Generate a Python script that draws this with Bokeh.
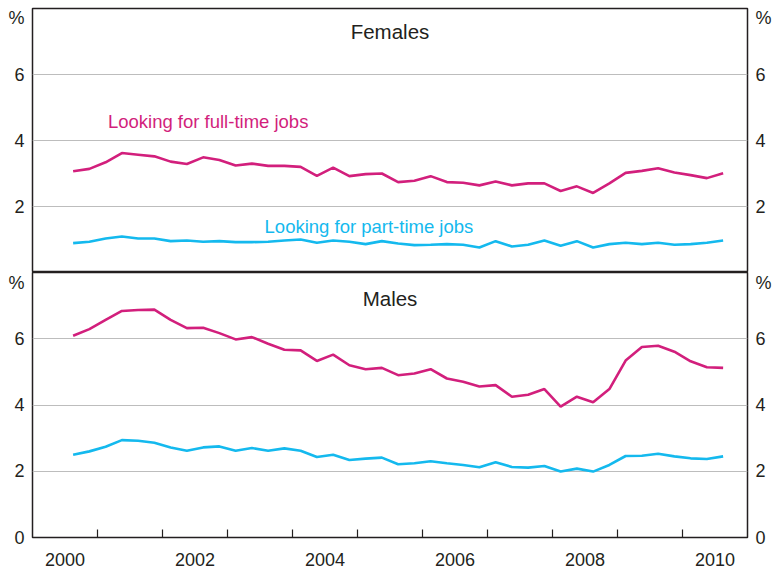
from bokeh.plotting import figure
from bokeh.models import (Range1d, LinearAxis, FixedTicker, CustomJSTickFormatter,
                          Label, ColumnDataSource)
from bokeh.layouts import column
from bokeh.embed import file_html
from bokeh.resources import INLINE

# ---- data (quarterly, mid-quarter, Aug 2000 .. Aug 2010) ----
quarters = [2000.625 + 0.25 * i for i in range(41)]

fem_full = [3.07, 3.14, 3.34, 3.62, 3.57, 3.52, 3.36, 3.29, 3.49, 3.41,
            3.24, 3.30, 3.23, 3.23, 3.20, 2.93, 3.18, 2.92, 2.98, 3.00,
            2.74, 2.78, 2.92, 2.74, 2.72, 2.64, 2.76, 2.64, 2.70, 2.70,
            2.47, 2.61, 2.41, 2.70, 3.02, 3.08, 3.16, 3.03, 2.95, 2.86, 3.01]
fem_part = [0.89, 0.93, 1.03, 1.09, 1.03, 1.03, 0.95, 0.97, 0.93, 0.95,
            0.92, 0.92, 0.93, 0.97, 1.00, 0.90, 0.97, 0.93, 0.86, 0.95,
            0.88, 0.83, 0.84, 0.86, 0.84, 0.76, 0.95, 0.79, 0.84, 0.97,
            0.81, 0.95, 0.76, 0.86, 0.90, 0.86, 0.90, 0.84, 0.86, 0.90, 0.97]
male_full = [6.09, 6.29, 6.57, 6.84, 6.87, 6.88, 6.57, 6.32, 6.33, 6.17,
             5.98, 6.05, 5.85, 5.67, 5.65, 5.33, 5.52, 5.20, 5.08, 5.12,
             4.90, 4.95, 5.08, 4.80, 4.70, 4.56, 4.60, 4.25, 4.31, 4.48,
             3.95, 4.25, 4.08, 4.48, 5.34, 5.75, 5.79, 5.61, 5.32, 5.14, 5.12]
male_part = [2.50, 2.60, 2.74, 2.94, 2.92, 2.86, 2.72, 2.62, 2.72, 2.75,
             2.62, 2.70, 2.62, 2.69, 2.62, 2.43, 2.50, 2.34, 2.38, 2.41,
             2.21, 2.24, 2.30, 2.24, 2.19, 2.12, 2.27, 2.13, 2.11, 2.16,
             1.99, 2.08, 1.99, 2.19, 2.46, 2.47, 2.53, 2.45, 2.39, 2.37, 2.45]

panel_titles = ["Females", "Males"]
series_labels = ["Looking for full-time jobs", "Looking for part-time jobs"]
year_ticks = [2001, 2002, 2003, 2004, 2005, 2006, 2007, 2008, 2009, 2010]
year_label_pos = [2000.5, 2002.5, 2004.5, 2006.5, 2008.5, 2010.5]

MAGENTA = "#D21F7C"
CYAN = "#14B9EE"
TXT = "#231F20"
FONT = "Liberation Sans"
W = 774

pct_fmt = CustomJSTickFormatter(code="return tick > 7 ? '%' : tick.toFixed(0);")


def style_yaxis(ax, ticks):
    ax.ticker = FixedTicker(ticks=ticks)
    ax.formatter = pct_fmt
    ax.major_tick_in = 0
    ax.major_tick_out = 0
    ax.minor_tick_in = 0
    ax.minor_tick_out = 0
    ax.axis_line_color = None
    ax.major_label_text_font = FONT
    ax.major_label_text_font_size = "18px"
    ax.major_label_text_color = TXT
    ax.major_label_standoff = 8


def make_panel(height, full, part, title, title_y, yticks, top_border, bottom_border, show_x):
    p = figure(width=W, height=height, output_backend="svg", toolbar_location=None,
               x_range=Range1d(2000, 2011), y_range=Range1d(0, 8),
               x_axis_type="linear" if show_x else None,
               min_border_left=32, min_border_right=24,
               min_border_top=top_border, min_border_bottom=bottom_border)
    p.outline_line_color = TXT
    p.outline_line_width = 1.5
    p.background_fill_color = "white"
    p.border_fill_color = "white"
    style_yaxis(p.yaxis[0], yticks)
    rax = LinearAxis()
    style_yaxis(rax, yticks)
    p.add_layout(rax, "right")
    p.xgrid.visible = False
    p.ygrid.ticker = FixedTicker(ticks=[2, 4, 6])
    p.ygrid.grid_line_color = "#BDBDBD"
    p.ygrid.grid_line_width = 1

    src = ColumnDataSource(dict(x=quarters, full=full, part=part))
    p.line("x", "full", source=src, line_color=MAGENTA, line_width=2.6)
    p.line("x", "part", source=src, line_color=CYAN, line_width=2.6)

    p.add_layout(Label(x=2005.5, y=title_y, text=title, text_align="center",
                       text_baseline="alphabetic", text_font=FONT,
                       text_font_size="20.5px", text_color=TXT))

    if show_x:
        xa = p.xaxis[0]
        xa.ticker = FixedTicker(ticks=year_label_pos, minor_ticks=year_ticks)
        xa.formatter = CustomJSTickFormatter(code="return Math.floor(tick).toString();")
        xa.major_tick_in = 0
        xa.major_tick_out = 0
        xa.minor_tick_in = 8
        xa.minor_tick_out = 0
        xa.minor_tick_line_color = TXT
        xa.minor_tick_line_width = 1.2
        xa.axis_line_color = None
        xa.major_label_text_font = FONT
        xa.major_label_text_font_size = "18px"
        xa.major_label_text_color = TXT
        xa.major_label_standoff = 15
    return p


p1 = make_panel(272, fem_full, fem_part, panel_titles[0], 7.30, [2, 4, 6, 7.7], 8, 0, False)
p1.add_layout(Label(x=2001.16, y=4.58, text=series_labels[0], text_font=FONT,
                    text_font_size="18.5px", text_color=MAGENTA,
                    text_baseline="alphabetic"))
p1.add_layout(Label(x=2003.57, y=1.40, text=series_labels[1], text_font=FONT,
                    text_font_size="18.5px", text_color=CYAN,
                    text_baseline="alphabetic"))

p2 = make_panel(301, male_full, male_part, panel_titles[1], 7.21, [0, 2, 4, 6, 7.9], 0, 36, True)

layout = column(p1, p2, spacing=0)

open("out.html", "w").write(file_html(layout, INLINE))
